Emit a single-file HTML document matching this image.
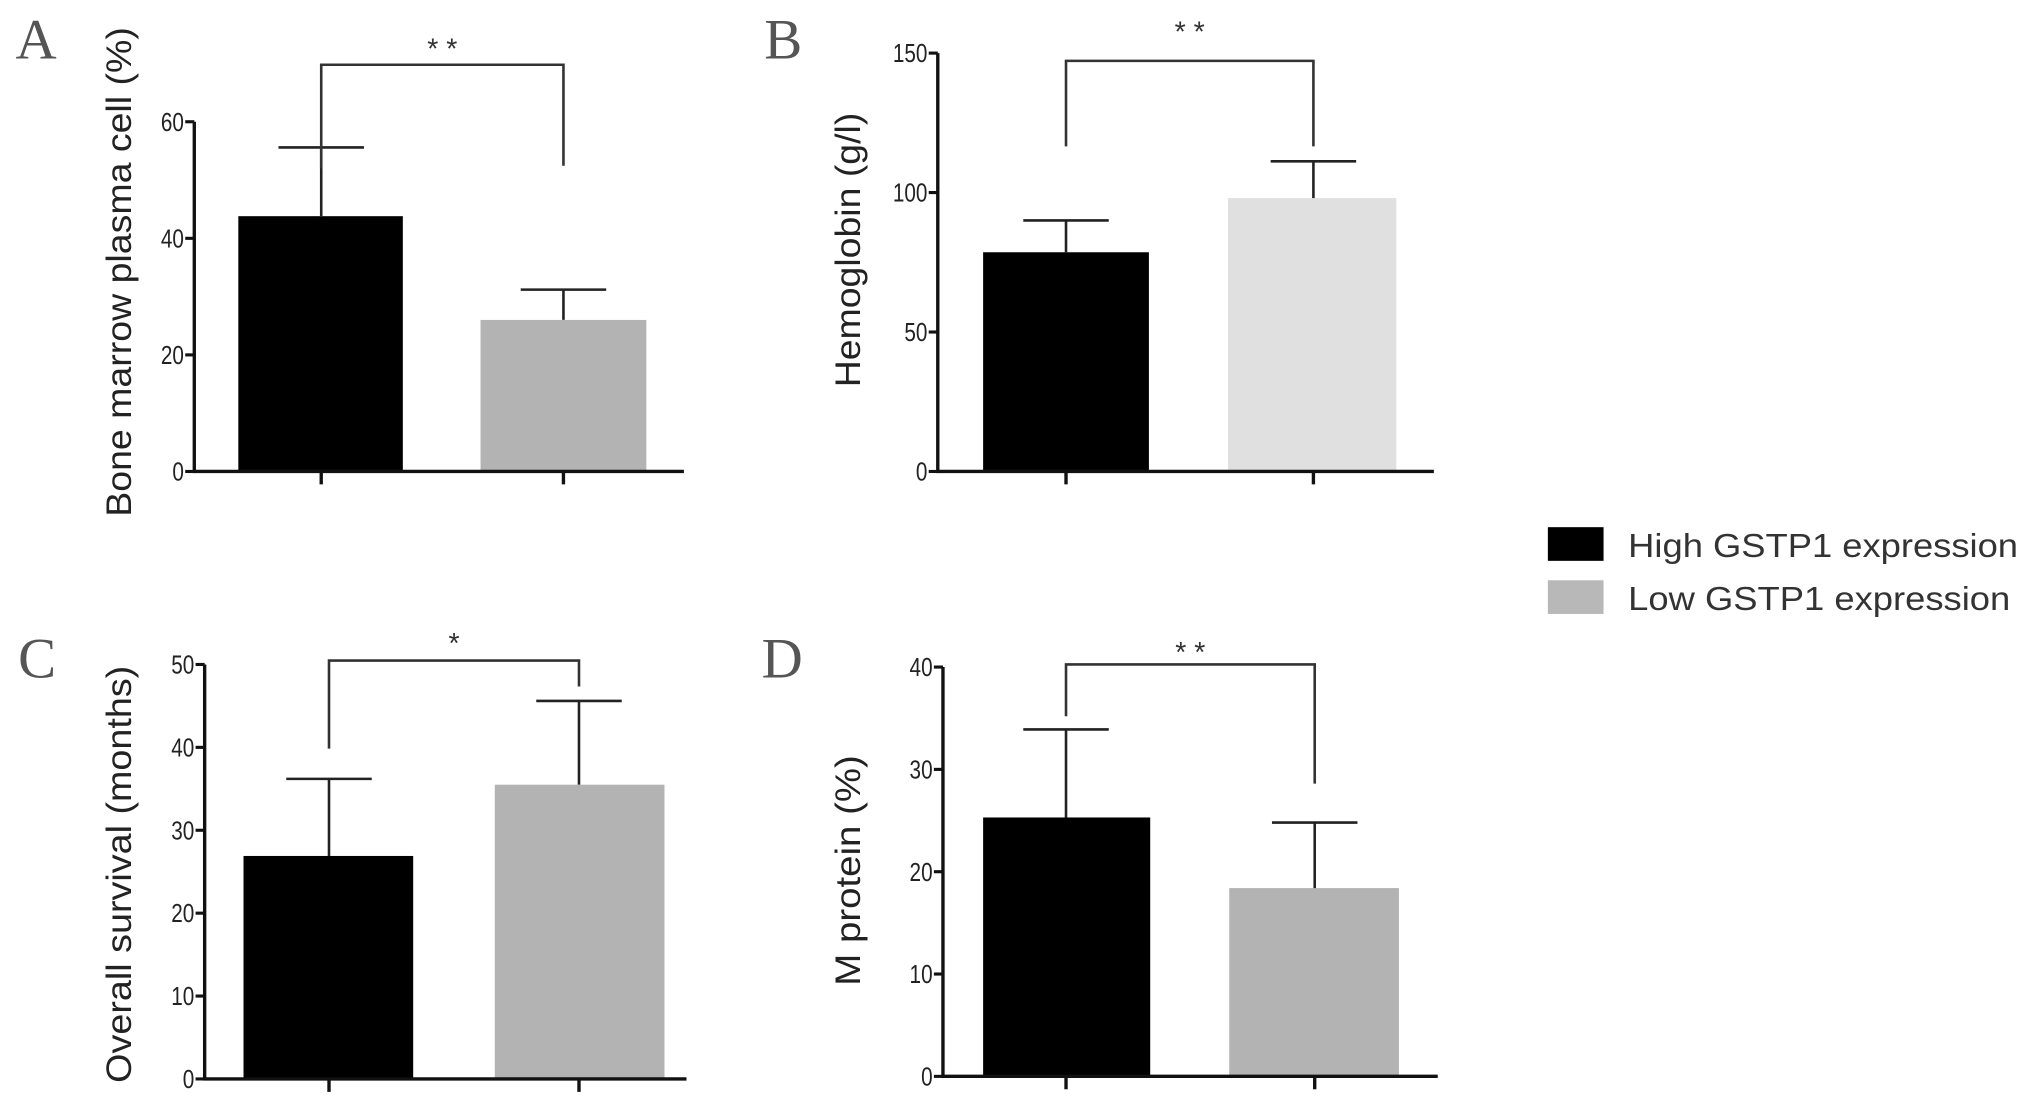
<!DOCTYPE html>
<html><head><meta charset="utf-8">
<style>
html,body{margin:0;padding:0;background:#fff;}
svg{display:block;}
</style></head>
<body>
<svg id="fig" width="2031" height="1109" viewBox="0 0 1568 856.2" preserveAspectRatio="none" xmlns="http://www.w3.org/2000/svg" font-family="Liberation Sans, sans-serif"></svg>
<script>
// Data arrays
const panelLetters = ["A","B","C","D"];
const panelTitles = ["Bone marrow plasma cell (%)","Hemoglobin (g/l)","Overall survival (months)","M protein (%)"];
const panelMax = [60,150,50,40];
const panelTicks = [[0,20,40,60],[0,50,100,150],[0,10,20,30,40,50],[0,10,20,30,40]];
const highMeans = [43.8,78.6,26.9,25.3];
const highErr = [11.8,11.4,9.3,8.6];
const lowMeans = [26.0,98.0,35.5,18.4];
const lowErr = [5.2,13.2,10.1,6.4];
const sigLabels = ["* *","* *","*","*   *"];
const legendLabels = ["High GSTP1 expression","Low GSTP1 expression"];

const NS="http://www.w3.org/2000/svg";
const svg=document.getElementById('fig');
function mk(tag,attrs,parent){const e=document.createElementNS(NS,tag);for(const k in attrs)e.setAttribute(k,attrs[k]);(parent||svg).appendChild(e);return e;}

const layouts=[
 {ax:150,y0:364,yTop:94,xEnd:528,b1:[184,311],b2:[371,499],t1:248,t2:435,brTop:50,leg1:130,leg2:128,starY:34,lx:12,ly:45,tx:101,ty:210,low:'#b3b3b3'},
 {ax:724,y0:364,yTop:41,xEnd:1107,b1:[759,887],b2:[948,1078],t1:823,t2:1014,brTop:47,leg1:113,leg2:113,starY:21,lx:590,ly:45,tx:664,ty:193,low:'#e0e0e0'},
 {ax:158,y0:833,yTop:513,xEnd:530,b1:[188,319],b2:[382,513],t1:254,t2:447,brTop:510,leg1:578,leg2:530,starY:493,lx:14,ly:523,tx:101,ty:675,low:'#b3b3b3'},
 {ax:728,y0:831,yTop:515,xEnd:1110,b1:[759,888],b2:[949,1080],t1:823,t2:1015,brTop:513,leg1:553,leg2:605,starY:500,lx:588,ly:523,tx:664,ty:672,low:'#b3b3b3'}
];
const titleLens=[378,212,322,178];

panelLetters.forEach((L,i)=>{
  const g=layouts[i];
  const grp=mk('g',{});
  
  
  const y=v=>g.y0-(v/panelMax[i])*(g.y0-g.yTop);
  const lab=mk('text',{x:g.lx,y:g.ly,'font-family':'Liberation Serif, serif','font-size':44,fill:'#555'},grp);
  lab.textContent=L;
  
  
  const tt=mk('text',{x:g.tx,y:g.ty,'font-size':27,fill:'#222','text-anchor':'middle',textLength:titleLens[i],lengthAdjust:'spacingAndGlyphs',transform:`rotate(-90 ${g.tx} ${g.ty})`},grp);
  tt.textContent=panelTitles[i];
  
  
  const hb=mk('rect',{x:g.b1[0],y:y(highMeans[i]),width:g.b1[1]-g.b1[0],height:g.y0-y(highMeans[i]),fill:'#000'},grp);
  
  
  const lb=mk('rect',{x:g.b2[0],y:y(lowMeans[i]),width:g.b2[1]-g.b2[0],height:g.y0-y(lowMeans[i]),fill:g.low},grp);
  
  
  [[g.t1,highMeans[i],highErr[i]],[g.t2,lowMeans[i],lowErr[i]]].forEach(([cx,m,e],k)=>{
    const eb=mk('path',{d:`M${cx} ${y(m)} V${y(m+e)} M${cx-33} ${y(m+e)} H${cx+33}`,stroke:'#222','stroke-width':2,fill:'none'},grp);
    
    
  });
  const axis=mk('path',{d:`M${g.ax} ${g.yTop} V${g.y0} H${g.xEnd} M${g.t1} ${g.y0} V${g.y0+10} M${g.t2} ${g.y0} V${g.y0+10}`,stroke:'#111','stroke-width':2.6,fill:'none'},grp);
  
  
  panelTicks[i].forEach(t=>{
    mk('line',{x1:g.ax-7,x2:g.ax,y1:y(t),y2:y(t),stroke:'#111','stroke-width':2.4},grp);
    const tl=mk('text',{x:g.ax-8,y:y(t)+7,'font-size':20,fill:'#222','text-anchor':'end',transform:`translate(${(g.ax-8)*0.2} 0) scale(0.8 1)`},grp);
    tl.textContent=t;
    
    
  });
  const br=mk('path',{d:`M${g.t1} ${g.leg1} V${g.brTop} H${g.t2} V${g.leg2}`,stroke:'#333','stroke-width':2,fill:'none'},grp);
  
  
  const st=mk('text',{x:(g.t1+g.t2)/2,y:g.starY+11,'font-size':22,fill:'#333','text-anchor':'middle'},grp);
  st.textContent=sigLabels[i];
  
  
});

const legColors=['#000','#b8b8b8'];
legendLabels.forEach((t,k)=>{
  const yy=[407,448][k];
  const sw=mk('rect',{x:1195,y:yy,width:43,height:26,fill:legColors[k]});
  
  
  const tx=mk('text',{x:1257,y:yy+23,'font-size':26,fill:'#333',textLength:k?295:301,lengthAdjust:'spacingAndGlyphs'});
  tx.textContent=t;
  
  
});
</script>
</body></html>
